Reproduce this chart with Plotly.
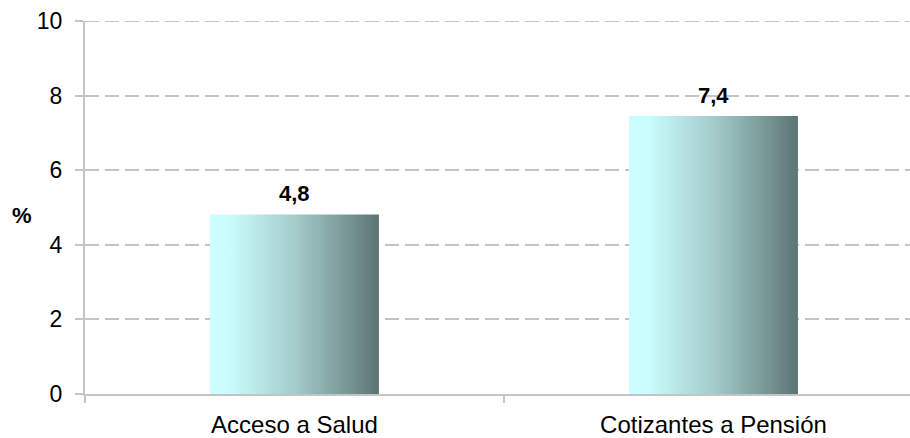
import plotly.graph_objects as go

categories = ["Acceso a Salud", "Cotizantes a Pensión"]
values = [4.81, 7.45]
labels = ["4,8", "7,4"]
y_ticks = [0, 2, 4, 6, 8, 10]

bar_width = 0.403
grad = [[0, "#ccffff"], [0.12, "#c9fcfc"], [0.5, "#a3cccb"], [0.78, "#7c9d9b"], [1, "#5c7473"]]
FONT = "Liberation Sans, Arial"
grid_color = "#c4c4c4"

fig = go.Figure()
for i, (c, v) in enumerate(zip(categories, values)):
    x0, x1 = i - bar_width / 2, i + bar_width / 2
    fig.add_trace(go.Scatter(
        x=[x0, x1, x1, x0, x0], y=[0, 0, v, v, 0],
        mode="lines", fill="toself", line=dict(width=0),
        fillgradient=dict(type="horizontal", colorscale=grad),
        hoverinfo="skip", showlegend=False,
    ))
    fig.add_annotation(x=i, y=v, text=f"<b>{labels[i]}</b>", showarrow=False,
                       yshift=21, font=dict(family=FONT, size=22, color="black"))

fig.add_annotation(xref="paper", yref="paper", x=-0.0764, y=0.479, text="<b>%</b>",
                   showarrow=False, xanchor="center", yanchor="middle",
                   font=dict(family=FONT, size=22, color="black"))

# top gridline (plotly omits the grid line at the range edge)
fig.add_shape(type="line", xref="paper", yref="y", x0=0, x1=1,
              y0=y_ticks[-1], y1=y_ticks[-1], layer="below",
              line=dict(color=grid_color, width=2, dash="14px,6px"))

fig.update_layout(
    width=910, height=438,
    margin=dict(l=85, r=0, t=21, b=41),
    plot_bgcolor="white", paper_bgcolor="white",
    font=dict(family=FONT, size=23, color="black"),
    xaxis=dict(
        range=[-0.5, -0.5 + 825 / 419],
        tickvals=[0, 1], ticktext=categories, ticks="",
        tickfont=dict(size=24),
        ticklabelstandoff=8,
        showgrid=False, zeroline=False,
        showline=True, linecolor=grid_color, linewidth=2,
        minor=dict(tickvals=[-0.5, 0.5, 1.5], ticks="outside", ticklen=7,
                   tickcolor=grid_color, tickwidth=2, showgrid=False),
    ),
    yaxis=dict(
        range=[0, 10], tickvals=y_ticks,
        ticks="outside", ticklen=8, tickcolor=grid_color, tickwidth=2,
        tickfont=dict(size=23),
        ticklabelstandoff=8,
        showgrid=True, gridcolor=grid_color, gridwidth=2, griddash="14px,6px",
        zeroline=False,
        showline=True, linecolor=grid_color, linewidth=2,
    ),
)

fig.write_html("out.html", config={"displayModeBar": False},
               post_script="document.body.style.margin='0';document.body.style.overflow='hidden';")
